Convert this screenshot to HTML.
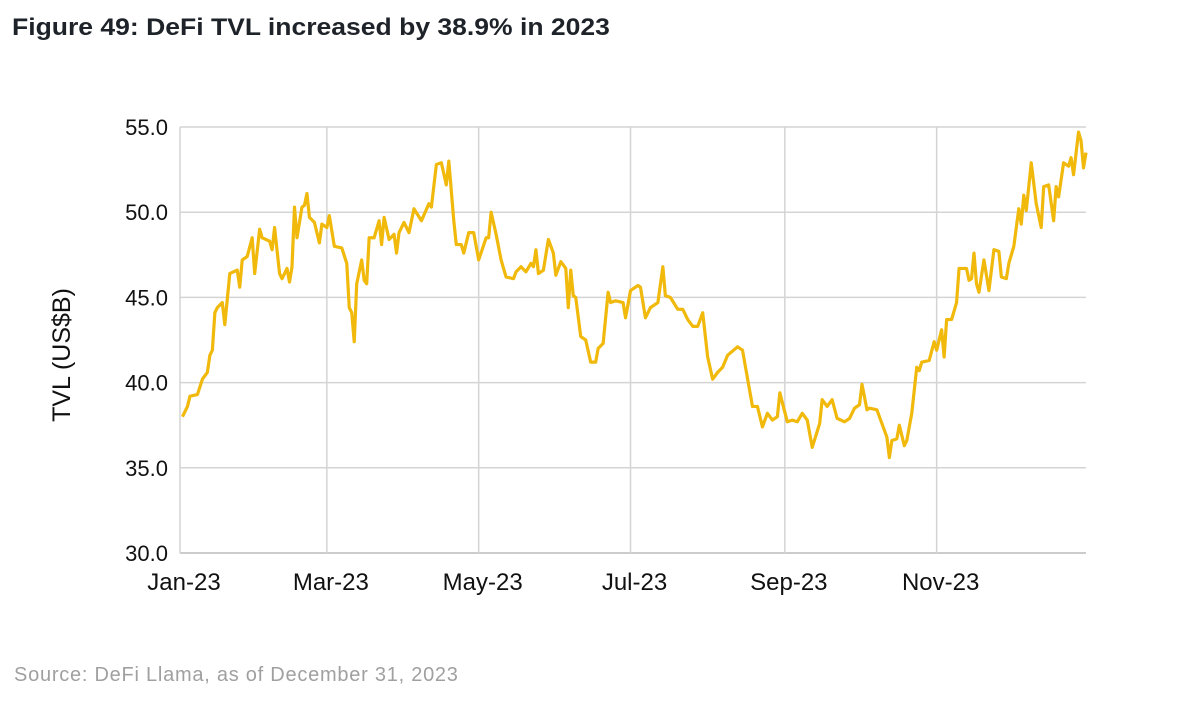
<!DOCTYPE html>
<html><head><meta charset="utf-8"><style>
body{margin:0;background:#fff;width:1204px;height:720px;overflow:hidden;font-family:"Liberation Sans",sans-serif}
#title{position:absolute;left:12px;top:14px;font-size:24px;font-weight:bold;color:#1e2329;transform:scaleX(1.105);transform-origin:0 0;white-space:nowrap}
#src{position:absolute;left:14px;top:664px;font-size:20px;letter-spacing:0.75px;color:#a0a0a0;white-space:nowrap}
svg{position:absolute;left:0;top:0}
</style></head><body>
<div id="title">Figure 49: DeFi TVL increased by 38.9% in 2023</div>
<svg id="chart" width="1204" height="720"></svg>
<div id="src">Source: DeFi Llama, as of December 31, 2023</div>
<script>
const days=[1,3,4,7,9,11,12,13,14,15,17,18,20,23,24,25,27,29,30,32,33,36,37,38,40,41,43,44,45,46,47,49,50,51,52,54,56,57,59,60,62,65,67,68,69,70,71,73,74,75,76,78,80,81,82,84,86,87,88,90,92,94,97,100,101,103,105,107,108,110,111,113,114,116,118,120,123,124,125,127,129,131,134,135,137,139,141,142,143,144,146,148,150,151,153,155,156,157,158,159,161,163,165,167,168,170,172,173,175,178,179,181,184,185,187,189,192,194,195,197,200,202,204,206,208,210,212,214,216,218,220,224,226,230,232,234,236,238,240,241,244,246,248,250,252,254,257,258,260,262,264,267,269,271,273,274,276,277,280,282,284,285,286,288,289,291,292,294,296,297,298,301,303,304,306,307,308,310,312,313,316,317,318,319,320,321,323,325,327,329,330,332,333,335,337,338,339,340,342,344,346,347,349,351,352,353,355,357,358,359,361,362,363,364];
const tvl=[38.0,38.6,39.2,39.3,40.2,40.6,41.6,41.9,44.1,44.4,44.7,43.4,46.4,46.6,45.6,47.2,47.4,48.5,46.4,49.0,48.5,48.3,47.8,49.1,46.4,46.1,46.7,45.9,46.8,50.3,48.5,50.3,50.4,51.1,49.7,49.4,48.2,49.3,49.1,49.8,48.0,47.9,47.0,44.4,44.1,42.4,45.8,47.2,46.0,45.8,48.5,48.5,49.5,48.1,49.7,48.4,48.7,47.6,48.8,49.4,48.8,50.2,49.5,50.5,50.3,52.8,52.9,51.6,53.0,49.5,48.1,48.1,47.6,48.8,48.8,47.2,48.5,48.5,50.0,48.7,47.2,46.2,46.1,46.5,46.8,46.5,47.0,46.8,47.8,46.4,46.6,48.4,47.6,46.3,47.1,46.7,44.4,46.6,45.1,45.0,42.7,42.5,41.2,41.2,42.0,42.3,45.3,44.7,44.8,44.7,43.8,45.4,45.7,45.6,43.8,44.4,44.7,46.8,45.1,45.0,44.3,44.3,43.7,43.3,43.3,44.1,41.5,40.2,40.6,40.9,41.6,42.1,41.9,38.6,38.6,37.4,38.2,37.8,38.0,39.4,37.7,37.8,37.7,38.2,37.8,36.2,37.6,39.0,38.6,39.0,37.9,37.7,37.9,38.5,38.7,39.9,38.4,38.5,38.4,37.6,36.8,35.6,36.6,36.7,37.5,36.3,36.6,38.2,40.9,40.7,41.2,41.3,42.4,41.9,43.1,41.5,43.7,43.7,44.7,46.7,46.7,46.0,46.1,47.6,45.8,45.3,47.2,45.4,47.8,47.7,46.2,46.1,47.0,48.0,50.2,49.3,51.0,50.1,52.9,50.5,49.1,51.5,51.6,49.5,51.5,50.9,52.9,52.7,53.2,52.2,54.7,54.2,52.6,53.5];
const yTicks=[30,35,40,45,50,55];
const yTickLabels=["30.0","35.0","40.0","45.0","50.0","55.0"];
const xTickDays=[0,59,120,181,243,304];
const xTickLabels=["Jan-23","Mar-23","May-23","Jul-23","Sep-23","Nov-23"];
const X0=180,X1=1086,Y0=553,Y1=127,DMAX=364,VMIN=30,VMAX=55;
const xs=d=>X0+(X1-X0)*d/DMAX;
const ys=v=>Y0-(Y0-Y1)*(v-VMIN)/(VMAX-VMIN);
const svg=document.getElementById('chart');
const NS='http://www.w3.org/2000/svg';
function mk(t,a){const e=document.createElementNS(NS,t);for(const k in a)e.setAttribute(k,a[k]);svg.appendChild(e);return e;}
yTicks.forEach((v,i)=>{
 const g=mk('line',{x1:X0,x2:X1,y1:ys(v),y2:ys(v),stroke:i==0?'#bbb':'#d4d4d4','stroke-width':1.5});
 
 
 const t=mk('text',{x:168,y:ys(v)+8,'text-anchor':'end','font-size':22,fill:'#111'});
 t.textContent=yTickLabels[i];
 
 
});
xTickDays.forEach((d,i)=>{
 const g=mk('line',{x1:xs(d),x2:xs(d),y1:Y1,y2:Y0,stroke:'#d4d4d4','stroke-width':1.5});
 
 
 const t=mk('text',{x:xs(d)+4,y:590,'text-anchor':'middle','font-size':24,fill:'#111'});
 t.textContent=xTickLabels[i];
 
 
});
const yt=mk('text',{x:0,y:0,transform:'translate(70,355) rotate(-90)','text-anchor':'middle','font-size':25,fill:'#111'});
yt.textContent='TVL (US$B)';


const p=mk('polyline',{points:days.map((d,i)=>xs(d)+','+ys(tvl[i])).join(' '),fill:'none',stroke:'#F0B90B','stroke-width':3.2,'stroke-linejoin':'round'});


</script>
</body></html>
